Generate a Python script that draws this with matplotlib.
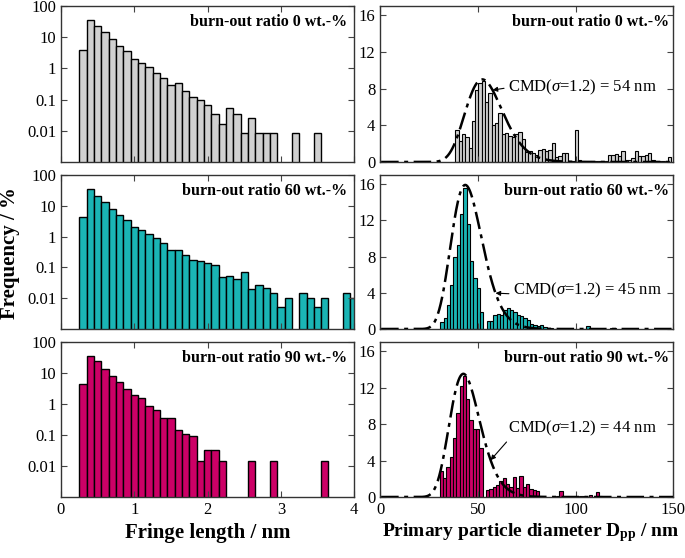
import matplotlib
matplotlib.use('Agg')
import matplotlib.pyplot as plt
import numpy as np
from matplotlib.ticker import LogLocator, NullFormatter

plt.rcParams['font.family'] = ['Liberation Serif', 'DejaVu Serif']
plt.rcParams['mathtext.fontset'] = 'custom'
plt.rcParams['mathtext.rm'] = 'Liberation Serif'
plt.rcParams['mathtext.it'] = 'Liberation Serif:italic'
plt.rcParams['mathtext.bf'] = 'Liberation Serif:bold'

# ---- data ----
ratios = ['0', '60', '90']
fill_colors = ['#d0d0d0', '#1ab5b5', '#cc0066']

# fringe length histograms (% , log axis), bins of 0.1 nm starting at 0.25 nm
fringe_bin_start = 0.25
fringe_bin_width = 0.1
fringe_freq_0 = [4.0, 36, 22, 14.5, 9.0, 5.4, 3.5, 2.0, 1.45, 1.07, 0.72, 0.51,
                 0.29, 0.35, 0.19, 0.12, 0.098, 0.069, 0.035, 0.017, 0.052, 0.035,
                 0.0086, 0.026, 0.0086, 0.0086, 0.0086, 0, 0, 0.0086, 0, 0, 0.0086]
fringe_freq_60 = [4.3, 35, 21, 13, 8.0, 5.1, 3.4, 2.1, 1.6, 1.2, 0.87, 0.63,
                  0.38, 0.36, 0.26, 0.17, 0.165, 0.135, 0.12, 0.047, 0.052, 0.042,
                  0.072, 0.020, 0.026, 0.021, 0.015, 0.005, 0.0105, 0, 0.015, 0.0105,
                  0.005, 0.0105, 0, 0, 0.015, 0.0105]
fringe_freq_90 = [4.3, 36, 24, 13, 8.1, 5.0, 2.96, 1.9, 1.56, 0.87, 0.63, 0.35,
                  0.34, 0.14, 0.11, 0.093, 0.015, 0.032, 0.032, 0.015, 0, 0, 0,
                  0.015, 0, 0, 0.015, 0, 0, 0, 0, 0, 0, 0.015]

# primary particle diameter histograms (%), bins of 1.7 nm
dpp_bin_width = 1.7
dpp_bin_start = [38.4, 30.7, 30.4]
dpp_freq_0 = [3.5, 2.3, 3.1, 2.7, 1.5, 4.5, 7.8, 8.6, 8.8, 6.5, 7.5, 4.0, 4.3,
              5.3, 3.0, 3.2, 2.8, 2.7, 3.0, 3.3, 2.5, 1.1, 1.2, 1.0, 0.8, 1.3,
              1.4, 1.2, 1.3, 2.1, 0.5, 0.6, 1.0, 1.0, 0.1, 0.1, 3.5, 0.2, 0.1,
              0.1, 0.1, 0.1, 0.1, 0.1, 0.1, 0.1, 0.8, 0.8, 0.9, 0.6, 1.2, 0.2,
              0.2, 0.4, 1.2, 0.6, 0.6, 0.8, 1.0, 0.2, 0.1, 0.1, 0.1, 0, 0.5]
dpp_freq_60 = [0.8, 1.2, 2.7, 4.9, 7.9, 9.3, 12.7, 15.6, 11.6, 7.5, 5.6, 4.5,
               1.9, 0.0, 0.9, 0.9, 1.6, 1.7, 1.5, 2.1, 2.3, 2.1, 1.9, 1.6, 1.4,
               1.2, 1.0, 0.6, 0.45, 0.3, 0.4, 0.2, 0.15, 0.1, 0.05, 0, 0, 0, 0,
               0, 0, 0, 0, 0.05, 0.3, 0, 0, 0, 0, 0, 0, 0.1, 0.15]
dpp_freq_90 = [2.9, 2.1, 3.3, 4.4, 6.5, 9.2, 12.2, 13.3, 10.7, 8.4, 7.4, 7.4,
               5.4, 0, 0.8, 0.9, 1.1, 1.3, 1.7, 2.1, 1.4, 1.1, 2.2, 1.0, 2.3,
               1.1, 1.4, 0.9, 0.8, 0.7, 0, 0, 0, 0, 0, 0.1, 0.7, 0, 0, 0, 0, 0,
               0.1, 0.15, 0.05, 0.2, 0, 0.6, 0.1]

# log-normal fits
cmd_values = [54, 45, 44]
cmd_sigma = 1.2
cmd_peak = [9.0, 15.9, 13.5]

fringe_sets = [fringe_freq_0, fringe_freq_60, fringe_freq_90]
dpp_sets = [dpp_freq_0, dpp_freq_60, dpp_freq_90]

# annotation placement (nm, %): text anchor, arrow tip x, arrow start on text box
cmd_text_pos = [(65.5, 8.1), (68.0, 4.3), (65.5, 7.5)]
cmd_arrow_x = [57.5, 59.0, 56.5]
cmd_arrow_rel = [(0, 0.5), (0, 0.3), (0, -0.1)]

fig = plt.figure(figsize=(6.85, 5.58), dpi=100)

left_x, right_x, ax_w = 0.089, 0.555, 0.428
rows = [(0.7097, 0.2796), (0.4104, 0.2760), (0.1093, 0.2780)]

tick_fs = 12
for i in range(3):
    y0, h = rows[i]

    # ---------- left: fringe length ----------
    axl = fig.add_axes([left_x, y0, ax_w, h])
    freq = np.array(fringe_sets[i], dtype=float)
    edges = fringe_bin_start + fringe_bin_width * np.arange(len(freq))
    m = freq > 0
    axl.bar(edges[m], freq[m], width=fringe_bin_width, align='edge',
            color=fill_colors[i], edgecolor='black', linewidth=1.0)
    axl.set_yscale('log')
    axl.set_ylim(1e-3, 100)
    axl.set_xlim(0, 4)
    axl.set_yticks([100, 10, 1, 0.1, 0.01], labels=['100', '10', '1', '0.1', '0.01'])
    axl.yaxis.set_minor_locator(LogLocator(base=10, subs=np.arange(2, 10)))
    axl.yaxis.set_minor_formatter(NullFormatter())
    axl.set_xticks([0, 1, 2, 3, 4])
    axl.tick_params(which='both', direction='in', top=True, right=True,
                    labelsize=tick_fs, color='#444444')
    axl.tick_params(which='major', length=4)
    axl.tick_params(which='minor', length=2)
    if i < 2:
        axl.tick_params(labelbottom=False)
    axl.text(0.975, 0.95, f'burn-out ratio {ratios[i]} wt.-%', transform=axl.transAxes,
             ha='right', va='top', fontsize=11.5, fontweight='bold')

    # ---------- right: primary particle diameter ----------
    axr = fig.add_axes([right_x, y0, ax_w, h])
    dfreq = np.array(dpp_sets[i], dtype=float)
    dedges = dpp_bin_start[i] + dpp_bin_width * np.arange(len(dfreq))
    dm = dfreq > 0
    axr.bar(dedges[dm], dfreq[dm], width=dpp_bin_width, align='edge',
            color=fill_colors[i], edgecolor='black', linewidth=0.8)

    d = np.linspace(0.5, 150, 600)
    s = np.log(cmd_sigma)
    curve = np.exp(-(np.log(d) - np.log(cmd_values[i])) ** 2 / (2 * s ** 2)) / d
    curve = curve / curve.max() * cmd_peak[i]
    axr.plot(d, curve, color='black', linewidth=1.8,
             linestyle=(0, (7, 2.2, 1.6, 2.2)), zorder=3)

    axr.set_xlim(0, 150)
    axr.set_ylim(0, 17)
    axr.set_yticks([0, 4, 8, 12, 16])
    axr.set_xticks([0, 50, 100, 150])
    axr.tick_params(which='both', direction='in', top=True, right=True,
                    labelsize=tick_fs, length=4, color='#444444')
    if i < 2:
        axr.tick_params(labelbottom=False)
    axr.text(0.985, 0.95, f'burn-out ratio {ratios[i]} wt.-%', transform=axr.transAxes,
             ha='right', va='top', fontsize=11.5, fontweight='bold')

    tip_x = cmd_arrow_x[i]
    tip_y = np.interp(tip_x, d, curve)
    axr.annotate(f'CMD($\\sigma$=1.2) = {cmd_values[i]} nm', xy=(tip_x, tip_y),
                 xytext=cmd_text_pos[i], ha='left', va='center', fontsize=12,
                 arrowprops=dict(arrowstyle='-|>', color='black', lw=0.8,
                                 mutation_scale=7, shrinkA=1, shrinkB=0,
                                 relpos=cmd_arrow_rel[i]))

    for ax in (axl, axr):
        for sp in ax.spines.values():
            sp.set_linewidth(1.0)
            sp.set_color('#333333')

fig.text(0.015, 0.546, 'Frequency / %', rotation=90, ha='center', va='center',
         fontsize=15, fontweight='bold')
fig.text(left_x + ax_w / 2, 0.045, 'Fringe length / nm', ha='center', va='center',
         fontsize=15, fontweight='bold')
fig.text(right_x + ax_w / 2 + 0.006, 0.045,
         r'Primary particle diameter D$_{\mathbf{pp}}$ / nm', ha='center',
         va='center', fontsize=14, fontweight='bold')

fig.savefig('out.png', dpi=100)
